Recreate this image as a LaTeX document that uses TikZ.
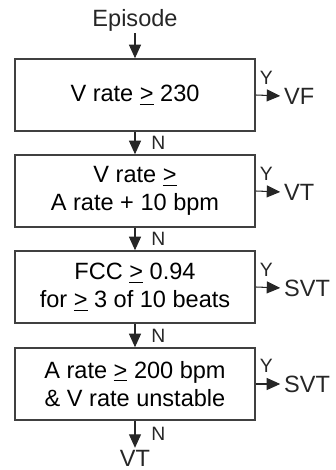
\documentclass[tikz,border=0pt]{standalone}
\usepackage{fontspec}
\setmainfont{Liberation Sans}
\usepackage{tikz}
\usetikzlibrary{arrows.meta,positioning}

\newcommand{\atleast}{\underline{>}}

\begin{document}
\begin{tikzpicture}[
  x=0.02cm, y=-0.02cm,
  font=\fontsize{13.4}{16}\selectfont,
  test/.style={draw=black!75, line width=0.9pt, minimum width=4.8cm, minimum height=1.44cm, align=center, inner sep=0pt},
  label/.style={inner sep=1pt, text=black!85},
  arrow/.style={-{Triangle[length=2.7mm, width=2.4mm]}, line width=0.6pt, draw=black!85},
  yes/.style={font=\fontsize{11}{12}\selectfont, inner sep=0pt, text=black!85}
]
\useasboundingbox (0,0) rectangle (335,470);

% tests
\node[test] (t1) at (135,95) {V rate \atleast{} 230};
\node[test] (t2) at (135,191) {V rate \atleast\\A rate + 10 bpm};
\node[test] (t3) at (135,287) {FCC \atleast{} 0.94\\for \atleast{} 3 of 10 beats};
\node[test] (t4) at (135,384) {A rate \atleast{} 200 bpm\\\& V rate unstable};

% start and end
\node[label] (start) at (135,20) {Episode};
\node[label] (vt) at (135,458) {VT};

% outcomes
\node[label, anchor=west] (o1) at (282,96) {VF};
\node[label, anchor=west] (o2) at (282,192) {VT};
\node[label, anchor=west] (o3) at (282,288) {SVT};
\node[label, anchor=west] (o4) at (282,384) {SVT};

% no branch
\draw[arrow] (start) -- (t1);
\draw[arrow] (t1) -- node[yes, right=9pt] {N} (t2);
\draw[arrow] (t2) -- node[yes, right=9pt] {N} (t3);
\draw[arrow] (t3) -- node[yes, right=9pt] {N} (t4);
\draw[arrow] (t4) -- node[yes, right=9pt] {N} (vt);

% yes branch
\foreach \i in {1,...,4}
  \draw[arrow, shorten >=1pt] (t\i.east) -- node[yes, above=6pt, pos=0.4] {Y} (o\i.west);
\end{tikzpicture}
\end{document}
